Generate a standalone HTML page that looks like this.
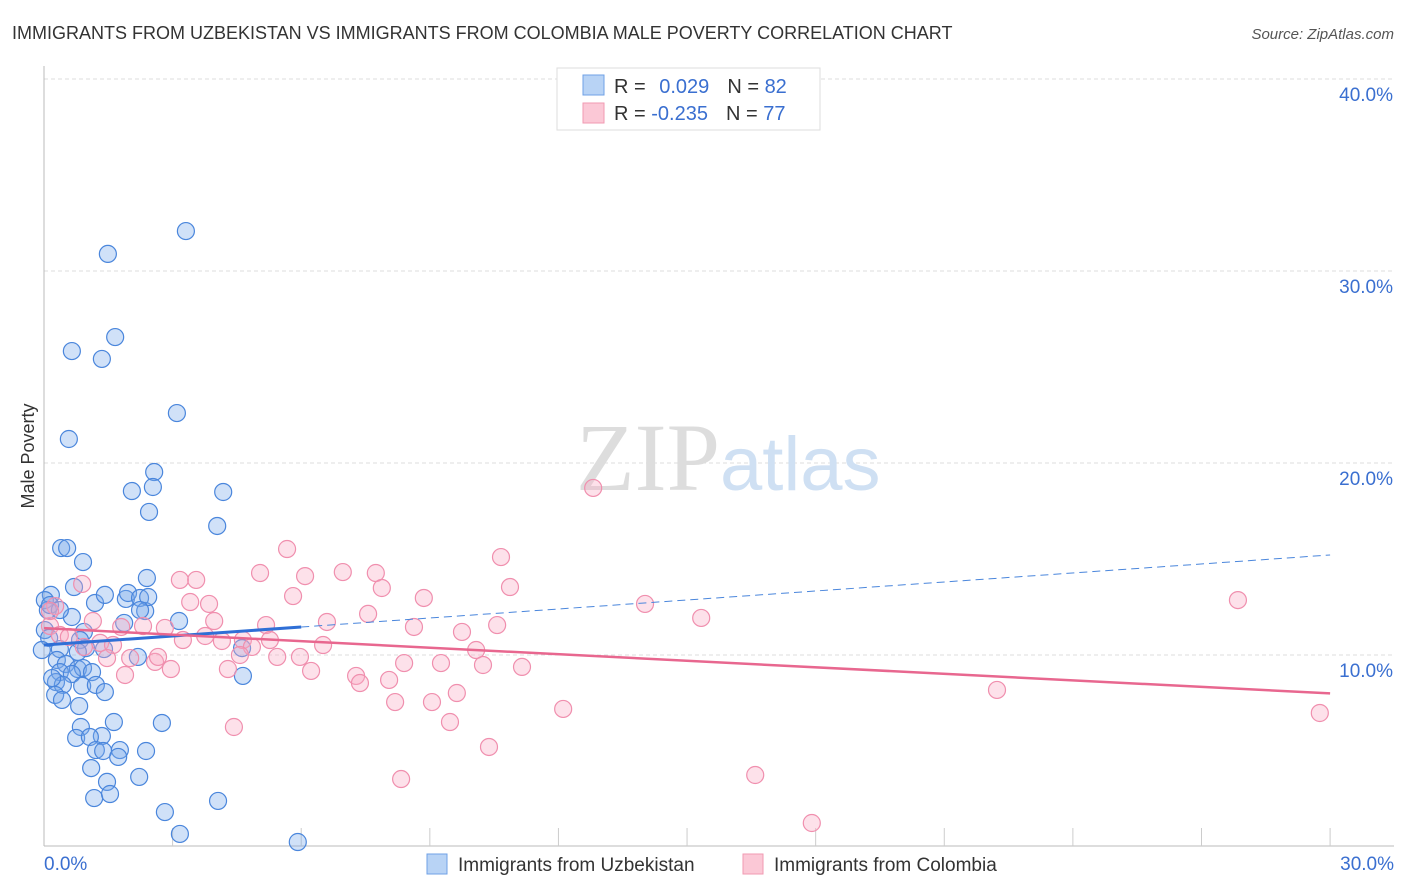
<!DOCTYPE html>
<html><head><meta charset="utf-8"><style>
body{margin:0;background:#fff;font-family:"Liberation Sans",sans-serif;}
svg{display:block}
</style></head><body>
<svg id="c" width="1406" height="892">
<text x="12" y="39" font-size="18" fill="#333">IMMIGRANTS FROM UZBEKISTAN VS IMMIGRANTS FROM COLOMBIA MALE POVERTY CORRELATION CHART</text>
<text x="1394" y="39" font-size="15" fill="#555" font-style="italic" text-anchor="end">Source: ZipAtlas.com</text>
<text x="34" y="456" font-size="18" fill="#333" text-anchor="middle" transform="rotate(-90 34 456)">Male Poverty</text>
<g id="grid"></g>
<text x="720" y="490" font-size="96" fill="#ddd" font-family="Liberation Serif" text-anchor="end">ZIP</text>
<text x="720" y="490" font-size="76" fill="#cfe0f3">atlas</text>
<g id="pts"></g>
<g id="lines"></g>
<g>
<rect x="557" y="68" width="263" height="62" fill="#fff" stroke="#ddd"/>
<rect x="583" y="75" width="21" height="20" fill="#b8d3f5" stroke="#6fa0e6"/>
<rect x="583" y="103" width="21" height="20" fill="#fbc8d6" stroke="#f09ab2"/>
<text x="614" y="93" font-size="20" fill="#333">R = <tspan fill="#3a6fd0" dx="8">0.029</tspan><tspan dx="18" fill="#333">N = </tspan><tspan fill="#3a6fd0">82</tspan></text>
<text x="614" y="120" font-size="20" fill="#333">R = <tspan fill="#3a6fd0">-0.235</tspan><tspan dx="18" fill="#333">N = </tspan><tspan fill="#3a6fd0">77</tspan></text>
</g>
<g>
<rect x="427" y="854" width="20" height="20" fill="#b8d3f5" stroke="#6fa0e6"/>
<text x="458" y="871" font-size="19" fill="#333">Immigrants from Uzbekistan</text>
<rect x="743" y="854" width="20" height="20" fill="#fbc8d6" stroke="#f09ab2"/>
<text x="774" y="871" font-size="19" fill="#333">Immigrants from Colombia</text>
</g>
</svg>
<script>
const yTicks=[10,20,30,40];
const yTickLabels=["10.0%","20.0%","30.0%","40.0%"];
const xTickLabels=["0.0%","30.0%"];
const bluePx=[[108,254],[186,231],[115,337],[72,351],[102,359],[177,413],[69,439],[154,472],[132,491],[153,487],[223,492],[149,512],[217,526],[61,548],[67,548],[83,562],[51,595],[74,587],[95,603],[126,599],[128,593],[140,598],[147,578],[145,611],[124,623],[179,621],[45,600],[48,610],[72,617],[84,632],[60,649],[80,640],[86,648],[78,652],[57,660],[66,664],[78,669],[83,668],[60,672],[72,674],[92,672],[56,682],[63,685],[52,678],[55,695],[62,700],[79,706],[82,686],[96,685],[105,692],[104,649],[138,657],[242,648],[243,676],[81,727],[114,722],[162,723],[76,738],[102,736],[90,737],[96,750],[103,751],[120,750],[146,751],[118,757],[91,768],[107,782],[139,777],[94,798],[110,794],[218,801],[165,812],[180,834],[298,842],[45,630],[49,638],[42,650],[50,605],[105,595],[148,597],[140,610],[60,610]];
const pinkPx=[[593,488],[501,557],[287,549],[260,573],[305,576],[343,572],[376,573],[180,580],[196,580],[382,588],[510,587],[293,596],[209,604],[190,602],[424,598],[645,604],[368,614],[327,622],[266,625],[497,625],[701,618],[1238,600],[414,627],[462,632],[214,621],[143,626],[121,627],[165,628],[93,621],[82,584],[55,606],[50,626],[60,635],[69,637],[84,647],[100,643],[113,645],[183,640],[205,636],[222,641],[243,640],[252,647],[270,640],[323,645],[476,650],[240,655],[277,657],[300,657],[107,658],[130,658],[155,662],[158,657],[171,669],[228,669],[311,671],[404,663],[441,663],[483,665],[522,667],[356,676],[389,680],[360,683],[125,675],[457,693],[395,702],[432,702],[563,709],[450,722],[234,727],[997,690],[1320,713],[489,747],[755,775],[401,779],[812,823],[50,611]];
// data values (percent) derived from reading the picture
const blueX=bluePx.map(p=>+((p[0]-44)/42.87).toFixed(2));
const blueY=bluePx.map(p=>+((847-p[1])/19.2).toFixed(2));
const pinkX=pinkPx.map(p=>+((p[0]-44)/42.87).toFixed(2));
const pinkY=pinkPx.map(p=>+((847-p[1])/19.2).toFixed(2));
const blueTrend=[10.52,15.21];
const pinkTrend=[11.4,8.0];
const NS='http://www.w3.org/2000/svg';
const X=v=>44+v*42.87, Y=v=>847-v*19.2;
function mk(t,a,parent){const e=document.createElementNS(NS,t);for(const k in a)e.setAttribute(k,a[k]);document.getElementById(parent).appendChild(e);return e;}
yTicks.forEach((t,i)=>{
 const l=mk('line',{x1:44,x2:1394,y1:Y(t),y2:Y(t),stroke:'#ddd','stroke-dasharray':'4,3'},'grid');
 
 
 const tx=mk('text',{x:1393,y:Y(t)+22,'font-size':19,fill:'#3a6fd0','text-anchor':'end'},'grid');
 tx.textContent=yTickLabels[i];
 
 
});
const ax=mk('line',{x1:44,x2:44,y1:66,y2:846,stroke:'#bbb'},'grid');


const bx=mk('line',{x1:44,x2:1394,y1:846,y2:846,stroke:'#bbb'},'grid');


for(let i=1;i<=10;i++){const xv=i*3;const t=mk('line',{x1:X(xv),x2:X(xv),y1:828,y2:846,stroke:'#ccc'},'grid');
 
 }
[[0,'start',44],[30,'end',1394]].forEach((d,i)=>{const t=mk('text',{x:d[2],y:870,'font-size':19,fill:'#3a6fd0','text-anchor':d[1]},'grid');t.textContent=xTickLabels[i];
 
 });
blueX.forEach((x,i)=>{const c=mk('circle',{cx:X(x),cy:Y(blueY[i]),r:8.5,fill:'rgba(120,170,235,0.35)',stroke:'#4a86dc','stroke-width':1.2},'pts');
 
 });
pinkX.forEach((x,i)=>{const c=mk('circle',{cx:X(x),cy:Y(pinkY[i]),r:8.5,fill:'rgba(248,170,195,0.35)',stroke:'#f08fae','stroke-width':1.2},'pts');
 
 });
const bAt=x=>blueTrend[0]+(blueTrend[1]-blueTrend[0])*x/30;
let l1=mk('line',{x1:X(6),y1:Y(bAt(6)),x2:X(30),y2:Y(bAt(30)),stroke:'#4a86dc','stroke-width':1,'stroke-dasharray':'8,5'},'lines');


let l2=mk('line',{x1:X(0),y1:Y(bAt(0)),x2:X(6),y2:Y(bAt(6)),stroke:'#2f6fd6','stroke-width':3},'lines');


let l3=mk('line',{x1:X(0),y1:Y(pinkTrend[0]),x2:X(30),y2:Y(pinkTrend[1]),stroke:'#e8678f','stroke-width':2.5},'lines');


</script>
</body></html>
